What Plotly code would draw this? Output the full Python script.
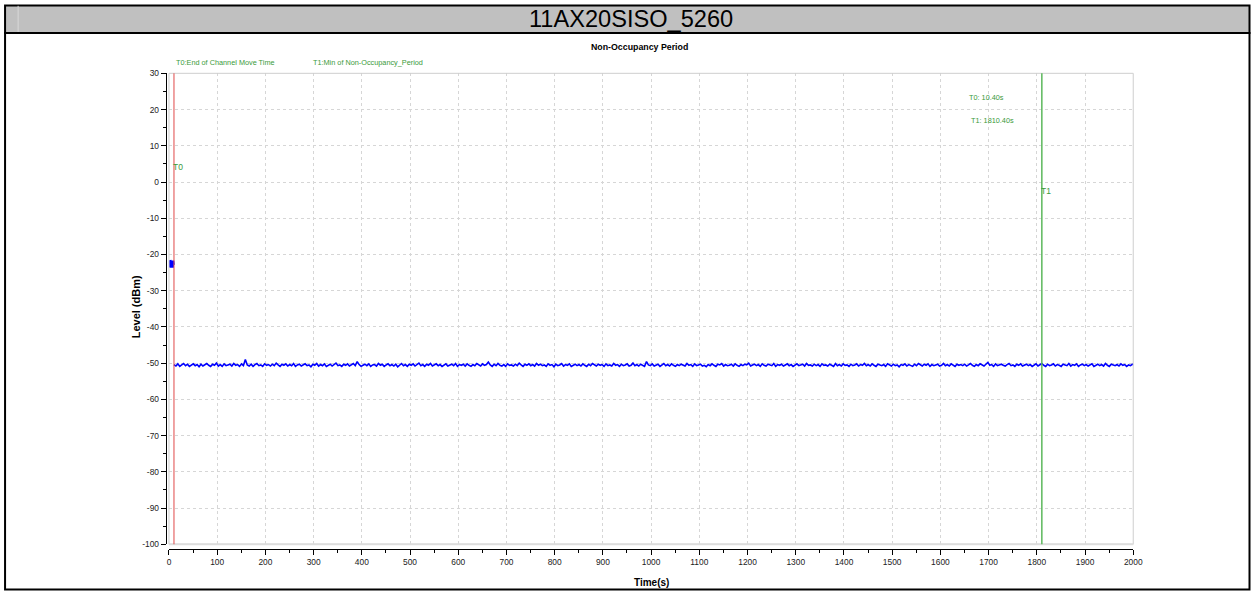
import plotly.graph_objects as go

# ---------------- data ----------------
header_text = "11AX20SISO_5260"
chart_title = "Non-Occupancy Period"
x_title = "Time(s)"
y_title = "Level (dBm)"

t0_time = 10.40
t1_time = 1810.40

# burst at the start (before channel move)
burst_time = [1.0, 2.0, 3.0, 4.0, 5.0, 6.0, 7.0, 8.0]
burst_level = [-21.6, -23.4, -21.8, -23.5, -22.4, -23.6, -21.7, -22.9]

# noise floor after channel move, sampled every 4 s starting at T0
floor_start = 10.4
floor_step = 4.0
floor_level = [
    -50.4, -50.8, -50.2, -50.9, -50.5, -50.1, -50.7, -50.3, -50.9, -50.6,
    -50.2, -50.7, -50.4, -51.0, -50.3, -50.8, -50.5, -50.1, -50.6, -50.9,
    -50.3, -50.6, -50.0, -50.8, -50.4, -50.9, -50.2, -50.7, -50.5, -50.3,
    -50.8, -50.1, -50.6, -50.4, -50.9, -50.2, -50.7, -49.0, -50.5, -50.8,
    -50.3, -50.9, -50.4, -50.1, -50.7, -50.5, -50.9, -50.2, -50.6, -50.4,
    -50.8, -50.3, -50.7, -50.0, -50.5, -50.9, -50.3, -50.6, -50.2, -50.8,
    -50.4, -50.7, -50.1, -50.9, -50.5, -50.3, -50.8, -50.6, -50.2, -50.7,
    -50.5, -51.0, -50.3, -50.6, -50.1, -50.8, -50.4, -50.7, -50.2, -50.9,
    -50.6, -50.3, -50.8, -50.4, -50.0, -50.7, -50.5, -50.9, -50.3, -50.6,
    -50.2, -50.8, -50.5, -50.1, -50.7, -49.6, -50.4, -50.9, -50.6, -50.3,
    -50.7, -50.2, -50.9, -50.5, -50.4, -50.8, -50.1, -50.6, -50.3, -50.9,
    -50.5, -50.2, -50.7, -50.4, -50.8, -50.3, -51.0, -50.6, -50.1, -50.7,
    -50.4, -50.9, -50.3, -50.6, -50.2, -50.8, -50.5, -50.0, -50.7, -50.4,
    -50.9, -50.3, -50.6, -50.1, -50.8, -50.5, -50.2, -50.7, -50.4, -50.9,
    -50.6, -50.2, -50.8, -50.5, -50.3, -50.7, -50.1, -50.9, -50.4, -50.6,
    -50.3, -50.8, -50.2, -50.6, -50.9, -50.4, -50.7, -50.1, -50.5, -50.8,
    -50.2, -50.6, -50.4, -49.7, -50.5, -50.9, -50.3, -50.7, -50.1, -50.6,
    -50.8, -50.4, -50.9, -50.2, -50.6, -50.5, -50.8, -50.3, -50.7, -50.0,
    -50.5, -50.9, -50.3, -50.6, -50.2, -50.7, -50.4, -50.8, -50.1, -50.6,
    -50.3, -50.7, -50.5, -50.9, -50.2, -50.6, -50.4, -51.0, -50.3, -50.7,
    -50.5, -50.1, -50.8, -50.4, -50.6, -50.2, -50.9, -50.5, -50.3, -50.7,
    -50.4, -50.8, -50.2, -50.6, -50.9, -50.3, -50.7, -50.1, -50.5, -50.8,
    -50.3, -50.6, -50.4, -50.9, -50.2, -50.7, -50.5, -50.8, -50.1, -50.6,
    -50.4, -50.9, -50.3, -50.7, -50.5, -50.2, -50.8, -50.6, -50.0, -50.7,
    -50.4, -50.8, -50.3, -50.6, -50.9, -49.6, -50.5, -50.7, -50.2, -50.8,
    -50.5, -50.3, -50.9, -50.6, -50.1, -50.7, -50.4, -50.8, -50.2, -50.6,
    -50.9, -50.4, -50.7, -50.3, -50.5, -50.8, -50.1, -50.6, -50.4, -50.9,
    -50.2, -50.7, -50.5, -50.3, -50.8, -50.6, -51.0, -50.4, -50.7, -50.2,
    -50.6, -50.9, -50.3, -50.5, -50.1, -50.8, -50.4, -50.7, -50.6, -50.3,
    -50.8, -50.2, -50.6, -50.9, -50.4, -50.7, -50.3, -50.5, -50.0, -50.8,
    -50.5, -50.3, -50.7, -50.4, -50.9, -50.2, -50.6, -50.8, -50.3, -50.5,
    -50.7, -50.1, -50.9, -50.4, -50.6, -50.3, -50.8, -50.5, -50.2, -50.7,
    -50.4, -50.9, -50.6, -50.2, -50.7, -50.5, -50.3, -50.8, -50.1, -50.6,
    -50.5, -50.8, -50.3, -50.7, -50.4, -50.9, -50.2, -50.6, -50.5, -50.8,
    -50.3, -50.6, -50.9, -50.1, -50.7, -50.4, -50.8, -50.2, -50.6, -50.5,
    -50.9, -50.3, -50.7, -50.5, -50.2, -50.8, -50.4, -50.6, -50.1, -50.7,
    -50.4, -50.8, -50.2, -50.6, -50.9, -50.3, -50.5, -50.7, -50.4, -50.9,
    -50.2, -50.6, -50.8, -50.3, -50.7, -50.5, -51.0, -50.4, -50.6, -50.2,
    -50.8, -50.4, -50.6, -50.9, -50.3, -50.7, -50.1, -50.5, -50.8, -50.3,
    -50.6, -50.2, -50.9, -50.4, -50.7, -50.5, -50.3, -50.8, -50.6, -50.1,
    -50.7, -50.4, -50.8, -50.2, -50.5, -50.9, -50.3, -50.6, -50.4, -50.7,
    -50.3, -50.8, -50.5, -50.1, -50.6, -50.9, -50.4, -50.7, -50.2, -50.5,
    -50.8, -50.3, -49.8, -50.6, -50.4, -50.9, -50.2, -50.7, -50.5, -50.3,
    -50.6, -50.8, -50.4, -50.1, -50.7, -50.5, -50.9, -50.3, -50.6, -50.2,
    -50.8, -50.5, -50.3, -50.7, -50.4, -50.9, -50.6, -50.2, -50.8, -50.4,
    -50.1, -50.6, -50.9, -50.3, -50.7, -50.5, -50.2, -50.8, -50.4, -50.6,
    -50.9, -50.3, -50.5, -50.7, -50.1, -50.8, -50.4, -50.6, -50.2, -50.9,
    -50.5, -50.3, -50.7, -50.4, -50.8, -50.6, -50.2, -50.9, -50.5, -50.3,
    -50.7, -50.4, -50.8, -50.1, -50.6, -50.9, -50.3, -50.5, -50.7, -50.4,
    -50.8, -50.2, -50.6, -50.4, -50.9, -50.5, -50.7, -50.3, -50.6, -50.8,
]
floor_time = [floor_start + floor_step * i for i in range(len(floor_level))]

x_range = [0, 2000]
y_range = [-100, 30]
y_tick_vals = [30, 20, 10, 0, -10, -20, -30, -40, -50, -60, -70, -80, -90, -100]
y_tick_text = ["30", "20", "10", "0", "-10", "-20", "-30", "-40", "-50",
               "-60", "-70", "-80", "-90", "-100"]

# ---------------- layout helpers ----------------
W, H = 1260, 595
# the photographed page appears slightly inset; map target picture pixels to page pixels
AX, SX = 3.95, 0.9868
AY, SY = 5.2, 0.98
def fx(r):
    return min(max((r - AX) / SX, 0.5), W - 0.5)
def fy(r):
    return min(max((r - AY) / SY, 0.5), H - 0.5)
def px(r):
    return fx(r) / W
def py(r):
    return 1 - fy(r) / H

FONT = "Liberation Sans, Arial, sans-serif"
GREEN_TXT = "#3A9A3A"

def font(size, color="#222"):
    return dict(family=FONT, size=size, color=color)

fig = go.Figure()
fig.add_trace(go.Scatter(x=burst_time, y=burst_level, mode="lines",
                         line=dict(color="#0000FF", width=4), showlegend=False,
                         hoverinfo="skip"))
fig.add_trace(go.Scatter(x=floor_time, y=floor_level, mode="lines",
                         line=dict(color="#0000FF", width=1.6), showlegend=False))

fig.update_layout(
    width=W, height=H, autosize=False,
    margin=dict(l=0, r=0, t=0, b=0),
    paper_bgcolor="white", plot_bgcolor="white",
    showlegend=False,
    xaxis=dict(
        range=x_range, domain=[px(170.3), px(1131.0)],
        anchor="free", position=py(547),
        showline=True, linecolor="black", linewidth=1,
        ticks="outside", ticklen=5, tickcolor="black", tickwidth=1,
        tick0=0, dtick=100,
        minor=dict(tickmode="linear", tick0=0, dtick=50, ticks="outside", ticklen=3,
                   tickcolor="black", showgrid=False),
        showgrid=True, gridcolor="#D6D6D6", gridwidth=1, griddash="3px,3px",
        zeroline=False,
        tickfont=font(8.4),
    ),
    yaxis=dict(
        range=y_range, domain=[py(542.7), py(73.3)],
        anchor="free", position=px(167),
        showline=True, linecolor="black", linewidth=1,
        ticks="outside", ticklen=5, tickcolor="black", tickwidth=1,
        tickmode="array", tickvals=y_tick_vals, ticktext=y_tick_text,
        minor=dict(tickmode="linear", tick0=0, dtick=5, ticks="outside", ticklen=3,
                   tickcolor="black", showgrid=False),
        showgrid=True, gridcolor="#D6D6D6", gridwidth=1, griddash="3px,3px",
        zeroline=False,
        tickfont=font(8.4),
    ),
)

shapes = [
    # header bar
    dict(type="rect", xref="paper", yref="paper", x0=px(7), x1=px(1257), y0=py(33), y1=py(5),
         fillcolor="#C0C0C0", line=dict(color="black", width=2), layer="below"),
    dict(type="line", xref="paper", yref="paper", x0=px(20), x1=px(20), y0=py(32), y1=py(6),
         line=dict(color="#D8D8D8", width=1)),
    # body frame
    dict(type="rect", xref="paper", yref="paper", x0=px(7), x1=px(1257), y0=py(593), y1=py(33),
         line=dict(color="black", width=2), layer="below"),
    # plot frame
    dict(type="rect", xref="x domain", yref="y domain", x0=0, x1=1, y0=0, y1=1,
         line=dict(color="#CFCFCF", width=1)),
    dict(type="line", xref="x domain", yref="y domain", x0=0, x1=1, y0=0, y1=0,
         line=dict(color="#DDDDDD", width=2)),
    # marker lines
    dict(type="line", xref="x", yref="y domain", x0=t0_time, x1=t0_time, y0=0, y1=1,
         line=dict(color="#E04848", width=1)),
    dict(type="line", xref="x", yref="y domain", x0=t1_time, x1=t1_time, y0=0, y1=1,
         line=dict(color="#5CB85C", width=1.5)),
]
fig.update_layout(shapes=shapes)

ann = []
def A(text, x, y, fnt, xanchor="center", yanchor="middle", textangle=0):
    ann.append(dict(text=text, x=px(x), y=py(y), xref="paper", yref="paper",
                    xanchor=xanchor, yanchor=yanchor, showarrow=False,
                    font=fnt, textangle=textangle))

A(header_text, 631, 19, font(23.6, "black"))
A("<b>" + chart_title + "</b>", 639, 47, font(8.8, "black"))
A("<b>" + y_title + "</b>", 137, 306, font(11, "black"), textangle=-90)
A("<b>" + x_title + "</b>", 651, 581, font(10, "black"))
gfont = font(7.3, GREEN_TXT)
A("T0:End of Channel Move Time", 175, 63, gfont, xanchor="left")
A("T1:Min of Non-Occupancy_Period", 312, 63, gfont, xanchor="left")
A("T0: %.2fs" % t0_time, 965, 97, gfont, xanchor="left")
A("T1: %.2fs" % t1_time, 967, 120, gfont, xanchor="left")
A("T0", 172, 167, font(8.5, GREEN_TXT), xanchor="left")
A("T1", 1037, 191, font(8.5, GREEN_TXT), xanchor="left")
fig.update_layout(annotations=ann)

fig.write_html("out.html", config={"displayModeBar": False},
               post_script="document.body.style.margin='0';document.body.style.overflow='hidden';")
